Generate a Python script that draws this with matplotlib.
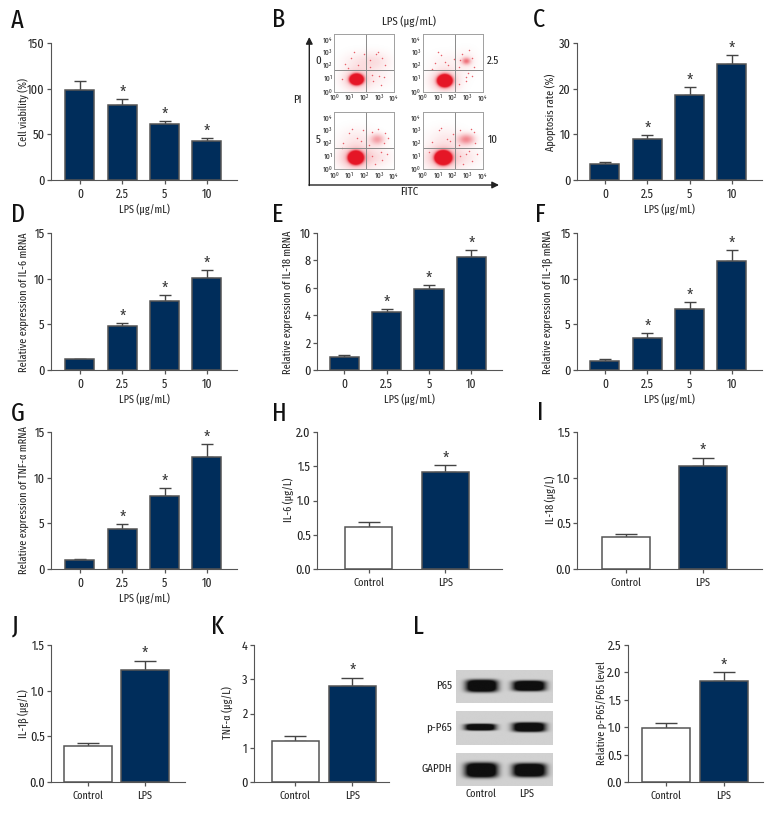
import numpy as np
import matplotlib
matplotlib.use('Agg')
import matplotlib.pyplot as plt
from matplotlib import font_manager as fm

installed = set(f.name for f in fm.fontManager.ttflist)
narrow = [n for n in ['Fira Sans Extra Condensed', 'PT Sans Narrow', 'Fira Sans Condensed', 'Roboto Condensed', 'Liberation Sans Narrow'] if n in installed]
plt.rcParams['font.family'] = narrow + ['Liberation Sans', 'DejaVu Sans']
plt.rcParams['mathtext.default'] = 'regular'
# without a narrow face the labels have to shrink to fit
FS = 1.0 if narrow else 0.85

W, H = 780, 816
NAVY = '#002d5b'
GREY = '#555555'
TXT = '#262626'

doses = ['0', '2.5', '5', '10']
groups = ['Control', 'LPS']

viability = [99, 82.5, 61, 43]
viability_top = [108, 88.3, 64.6, 46]
apoptosis = [3.6, 8.9, 18.7, 25.4]
apoptosis_top = [3.9, 9.8, 20.3, 27.4]
il6_mrna = [1.17, 4.87, 7.54, 10.06]
il6_mrna_top = [1.25, 5.16, 8.16, 10.9]
il18_mrna = [0.95, 4.27, 5.9, 8.22]
il18_mrna_top = [1.1, 4.44, 6.17, 8.73]
il1b_mrna = [1.02, 3.5, 6.73, 11.96]
il1b_mrna_top = [1.17, 4.06, 7.47, 13.1]
tnf_mrna = [0.98, 4.38, 8.0, 12.26]
tnf_mrna_top = [1.13, 4.93, 8.87, 13.65]

il6_conc = [0.62, 1.42]
il6_conc_top = [0.68, 1.52]
il18_conc = [0.35, 1.13]
il18_conc_top = [0.38, 1.22]
il1b_conc = [0.39, 1.23]
il1b_conc_top = [0.43, 1.33]
tnf_conc = [1.21, 2.79]
tnf_conc_top = [1.34, 3.05]
p65_ratio = [0.99, 1.84]
p65_ratio_top = [1.08, 2.01]

# flow plots: cluster = x, y, sx, sy, strength (log units)
flow_clusters = {
    '0': [(1.5, 0.95, 0.22, 0.2, 7), (1.5, 0.95, 0.62, 0.55, 0.3), (2.7, 2.3, 0.7, 0.5, 0.13), (1.5, 2.3, 0.7, 0.5, 0.07), (3.0, 1.0, 0.6, 0.5, 0.05)],
    '2.5': [(1.45, 0.85, 0.23, 0.22, 8), (1.45, 0.85, 0.62, 0.55, 0.35), (2.9, 2.35, 0.2, 0.18, 0.55), (2.9, 2.3, 0.5, 0.6, 0.07), (1.5, 2.3, 0.7, 0.5, 0.05)],
    '5': [(1.45, 0.85, 0.23, 0.23, 9), (1.45, 0.85, 0.72, 0.6, 0.4), (2.9, 2.25, 0.32, 0.28, 0.4), (1.5, 2.3, 0.8, 0.6, 0.08), (3.0, 0.9, 0.6, 0.5, 0.09)],
    '10': [(1.35, 0.85, 0.25, 0.24, 10), (1.35, 0.85, 0.75, 0.6, 0.4), (2.9, 2.25, 0.38, 0.28, 0.5), (1.5, 2.3, 0.8, 0.6, 0.08), (3.0, 0.9, 0.6, 0.5, 0.07)],
}
flow_dots_x = {
    '0': [0.7, 1.1, 1.6, 2.0, 2.4, 2.8, 3.2, 3.4, 2.6, 3.0, 0.9, 1.3, 2.5, 3.1, 2.9, 0.5, 2.4, 3.3],
    '2.5': [0.8, 1.2, 1.7, 2.4, 3.3, 2.6, 3.1, 3.4, 2.9, 1.0, 2.4, 2.9, 3.3, 2.1, 0.6, 1.5, 2.5, 3.0],
    '5': [0.6, 1.0, 1.5, 1.9, 2.3, 3.4, 2.5, 3.2, 3.5, 2.7, 3.1, 2.5, 3.3, 0.5, 1.2, 1.8, 2.9, 3.6],
    '10': [0.6, 1.1, 1.6, 2.0, 2.4, 3.4, 2.5, 3.3, 3.6, 2.7, 3.1, 2.5, 3.2, 0.4, 1.2, 1.8, 2.9, 3.5],
}
flow_dots_y = {
    '0': [2.1, 2.6, 2.0, 2.9, 1.9, 2.9, 2.6, 2.0, 0.8, 1.2, 1.8, 3.0, 1.3, 0.5, 3.0, 1.0, 2.4, 1.1],
    '2.5': [2.2, 2.8, 2.0, 1.9, 2.6, 2.9, 3.2, 1.9, 1.1, 3.0, 0.6, 0.8, 1.2, 2.5, 1.7, 2.3, 2.4, 1.4],
    '5': [2.0, 2.8, 2.4, 3.0, 1.9, 2.8, 1.0, 0.7, 1.2, 0.4, 1.3, 2.9, 2.0, 1.6, 3.1, 2.2, 3.1, 2.4],
    '10': [2.1, 3.0, 2.3, 2.7, 1.9, 2.9, 1.0, 0.6, 1.2, 0.4, 1.4, 3.0, 3.1, 1.3, 3.2, 2.2, 1.2, 2.0],
}

# blot bands: lane left, lane right, half height (strip fractions)
blot_names = ['P65', 'p-P65', 'GAPDH']
blot_centres = [0.48, 0.475, 0.52]
blot_bands = [
    [(0.10, 0.43, 0.19), (0.585, 0.925, 0.16)],
    [(0.09, 0.41, 0.10), (0.585, 0.925, 0.14)],
    [(0.09, 0.43, 0.23), (0.585, 0.93, 0.21)],
]


def px_axes(fig, x0, y0, x1, y1):
    return fig.add_axes([x0 / W, 1 - y1 / H, (x1 - x0) / W, (y1 - y0) / H])


def px_text(fig, x, y, s, **kw):
    return fig.text(x / W, 1 - y / H, s, **kw)


def bars(fig, box, xlim, values, tops, names, ymax, yticks, ylab, ylab_xy, stars, width, cap, xlab=None, white_first=False):
    ax = px_axes(fig, *box)
    x = np.arange(len(values))
    colors = [NAVY] * len(values)
    if white_first:
        colors[0] = 'white'
    errs = np.array(tops) - np.array(values)
    ax.bar(x, values, width=width, color=colors, edgecolor=GREY, linewidth=1.1, zorder=3)
    ax.errorbar(x, values, yerr=[np.zeros(len(x)), errs], fmt='none', ecolor='#444444',
                elinewidth=1.0, capsize=cap, capthick=1.0, zorder=2)
    for i in stars:
        ax.annotate('*', xy=(i, tops[i]), xytext=(0, -1.5), textcoords='offset points',
                    ha='center', va='bottom', fontsize=12 * FS, color='#333333')
    ax.set_xlim(*xlim)
    ax.set_ylim(0, ymax)
    ax.set_xticks(x)
    ax.set_xticklabels(names)
    ax.set_yticks(yticks[0])
    ax.set_yticklabels(yticks[1])
    ax.spines['top'].set_visible(False)
    ax.spines['right'].set_visible(False)
    ax.spines['left'].set_color(GREY)
    ax.spines['bottom'].set_color(GREY)
    ax.tick_params(axis='y', length=3, width=0.9, color=GREY, labelsize=9.5 * FS, labelcolor=TXT, pad=1.5)
    xsize = 9 if xlab else 8
    ax.tick_params(axis='x', length=3, width=0.9, color=GREY, labelsize=xsize * FS, labelcolor=TXT, pad=3)
    if xlab:
        ax.set_xlabel(xlab, fontsize=8 * FS, color=TXT, labelpad=1.5)
    px_text(fig, ylab_xy[0], ylab_xy[1], ylab, rotation=90, ha='center', va='center', fontsize=8 * FS, color=TXT)
    return ax


def flow_panel(fig, box, key):
    ax = px_axes(fig, *box)
    gx, gy = np.meshgrid(np.linspace(0, 4, 120), np.linspace(0, 4.4, 120))
    dens = np.zeros_like(gx)
    for cx, cy, sx, sy, k in flow_clusters[key]:
        dens += k * np.exp(-((gx - cx) / sx) ** 2 / 2 - ((gy - cy) / sy) ** 2 / 2)
    img = np.ones(gx.shape + (4,))
    img[..., 0] = 0.9
    img[..., 1] = 0.09
    img[..., 2] = 0.15
    img[..., 3] = np.clip(dens, 0, 1)
    ax.imshow(img, extent=(0, 4, 0, 4.4), origin='lower', aspect='auto', interpolation='bilinear')
    ax.scatter(flow_dots_x[key], flow_dots_y[key], s=1.2, color='#e8606a', linewidths=0, zorder=2)
    ax.axvline(2.15, color='#8a8a8a', lw=0.7)
    ax.axhline(1.63, color='#8a8a8a', lw=0.7)
    ax.set_xlim(0, 4)
    ax.set_ylim(0, 4.4)
    ax.set_xticks(range(5))
    ax.set_yticks(range(5))
    ax.set_xticklabels(['$10^{%d}$' % i for i in range(5)])
    ax.set_yticklabels(['$10^{%d}$' % i for i in range(5)])
    ax.tick_params(length=0, labelsize=5.8 * FS, labelcolor=TXT, pad=1)
    for s in ax.spines.values():
        s.set_color('#a0a0a0')
        s.set_linewidth(0.7)


def blot_strip(fig, box, idx):
    ax = px_axes(fig, *box)
    gx, gy = np.meshgrid(np.linspace(0, 1, 200), np.linspace(0, 1, 70))
    f = np.zeros_like(gx)
    for x0, x1, hh in blot_bands[idx]:
        cx = (x0 + x1) / 2
        a = (x1 - x0) / 2
        f += np.exp(-(np.abs(gx - cx) / a) ** 4 - (np.abs(gy - blot_centres[idx]) / hh) ** 4)
    ax.imshow(0.82 - 0.76 * np.clip(f * 1.6, 0, 1), cmap='gray', vmin=0, vmax=1, extent=(0, 1, 1, 0), aspect='auto')
    ax.axis('off')


fig = plt.figure(figsize=(W / 100, H / 100), dpi=100)

t15 = ([0, 5, 10, 15], ['0', '5', '10', '15'])
w4 = 0.685
xl_a = (-0.685, 3.71)
xl_c = (-0.66, 3.71)
lps = 'LPS (μg/mL)'

bars(fig, (51, 43, 237, 180), xl_a, viability, viability_top, doses, 150, ([0, 50, 100, 150], ['0', '50', '100', '150']),
     'Cell viability (%)', (23, 112), [1, 2, 3], w4, 4.5, lps)
bars(fig, (577, 43, 762, 180), xl_c, apoptosis, apoptosis_top, doses, 30, ([0, 10, 20, 30], ['0', '10', '20', '30']),
     'Apoptosis rate (%)', (550, 112), [1, 2, 3], w4, 4.5, lps)
bars(fig, (51, 233, 237, 370), xl_a, il6_mrna, il6_mrna_top, doses, 15, t15,
     'Relative expression of IL-6 mRNA', (24, 302), [1, 2, 3], w4, 4.5, lps)
bars(fig, (317, 233, 502, 370), (-0.64, 3.72), il18_mrna, il18_mrna_top, doses, 10, ([0, 2, 4, 6, 8, 10], ['0', '2', '4', '6', '8', '10']),
     'Relative expression of IL-18 mRNA', (288, 302), [1, 2, 3], w4, 4.5, lps)
bars(fig, (577, 233, 762, 370), xl_c, il1b_mrna, il1b_mrna_top, doses, 15, t15,
     'Relative expression of IL-1β mRNA', (548, 302), [1, 2, 3], w4, 4.5, lps)
bars(fig, (51, 432, 237, 569), xl_a, tnf_mrna, tnf_mrna_top, doses, 15, t15,
     'Relative expression of TNF-α mRNA', (24, 500), [1, 2, 3], w4, 4.5, lps)

t2 = ([0, 0.5, 1.0, 1.5, 2.0], ['0.0', '0.5', '1.0', '1.5', '2.0'])
t15b = ([0, 0.5, 1.0, 1.5], ['0.0', '0.5', '1.0', '1.5'])
bars(fig, (317, 432, 502, 569), (-0.673, 1.736), il6_conc, il6_conc_top, groups, 2, t2,
     'IL-6 (μg/L)', (288, 500), [1], 0.62, 8, white_first=True)
bars(fig, (577, 432, 762, 569), (-0.634, 1.77), il18_conc, il18_conc_top, groups, 1.5, t15b,
     'IL-18 (μg/L)', (550, 500), [1], 0.62, 8, white_first=True)
bars(fig, (51, 645, 185, 782), (-0.65, 1.70), il1b_conc, il1b_conc_top, groups, 1.5, t15b,
     'IL-1β (μg/L)', (23, 714), [1], 0.83, 8, white_first=True)
bars(fig, (254, 645, 389, 782), (-0.725, 1.64), tnf_conc, tnf_conc_top, groups, 4, ([0, 1, 2, 3, 4], ['0', '1', '2', '3', '4']),
     'TNF-α (μg/L)', (227, 713), [1], 0.83, 8, white_first=True)
bars(fig, (628, 645, 763, 782), (-0.666, 1.68), p65_ratio, p65_ratio_top, groups, 2.5,
     ([0, 0.5, 1.0, 1.5, 2.0, 2.5], ['0.0', '0.5', '1.0', '1.5', '2.0', '2.5']),
     'Relative p-P65/P65 level', (602, 713), [1], 0.83, 8, white_first=True)

# flow cytometry panel B
flow_panel(fig, (334.3, 34, 394, 91.7), '0')
flow_panel(fig, (423, 34, 482.7, 91.7), '2.5')
flow_panel(fig, (334.3, 112, 394, 169.3), '5')
flow_panel(fig, (423, 112, 482.7, 169.3), '10')

over = fig.add_axes([0, 0, 1, 1], zorder=-1)
over.set_xlim(0, W)
over.set_ylim(H, 0)
over.axis('off')
over.annotate('', xy=(309.3, 37), xytext=(309.3, 185.5), arrowprops=dict(arrowstyle='-|>', color='#222222', lw=1, shrinkA=0, shrinkB=0))
over.annotate('', xy=(499, 185), xytext=(309, 185), arrowprops=dict(arrowstyle='-|>', color='#222222', lw=1, shrinkA=0, shrinkB=0))

for x, y, s in [(409, 21, lps), (409, 192, 'FITC'), (297, 100, 'PI'), (318, 61, '0'), (493, 61, '2.5'), (318, 140, '5'), (493, 140, '10')]:
    px_text(fig, x, y, s, ha='center', va='center', fontsize=8.5 * FS, color=TXT)

# western blot panel L
blot_strip(fig, (456, 670, 552.7, 703), 0)
blot_strip(fig, (456, 711, 552.7, 745), 1)
blot_strip(fig, (456, 753, 552.7, 786), 2)
for y, s in zip([686, 728, 769], blot_names):
    px_text(fig, 452, y, s, ha='right', va='center', fontsize=8.5 * FS, color=TXT)
px_text(fig, 480.5, 794, 'Control', ha='center', va='center', fontsize=8 * FS, color=TXT)
px_text(fig, 526.5, 794, 'LPS', ha='center', va='center', fontsize=8 * FS, color=TXT)

for x, y, s in [(11, 28, 'A'), (272, 27, 'B'), (533, 27, 'C'), (11, 222, 'D'), (272, 222, 'E'), (535, 222, 'F'),
                (11, 421, 'G'), (272, 421, 'H'), (537, 420, 'I'), (12, 634, 'J'), (211, 634, 'K'), (413, 634, 'L')]:
    px_text(fig, x, y, s, ha='left', va='baseline', fontsize=19 * FS, color='#111111')

fig.savefig('out.png', dpi=100)
